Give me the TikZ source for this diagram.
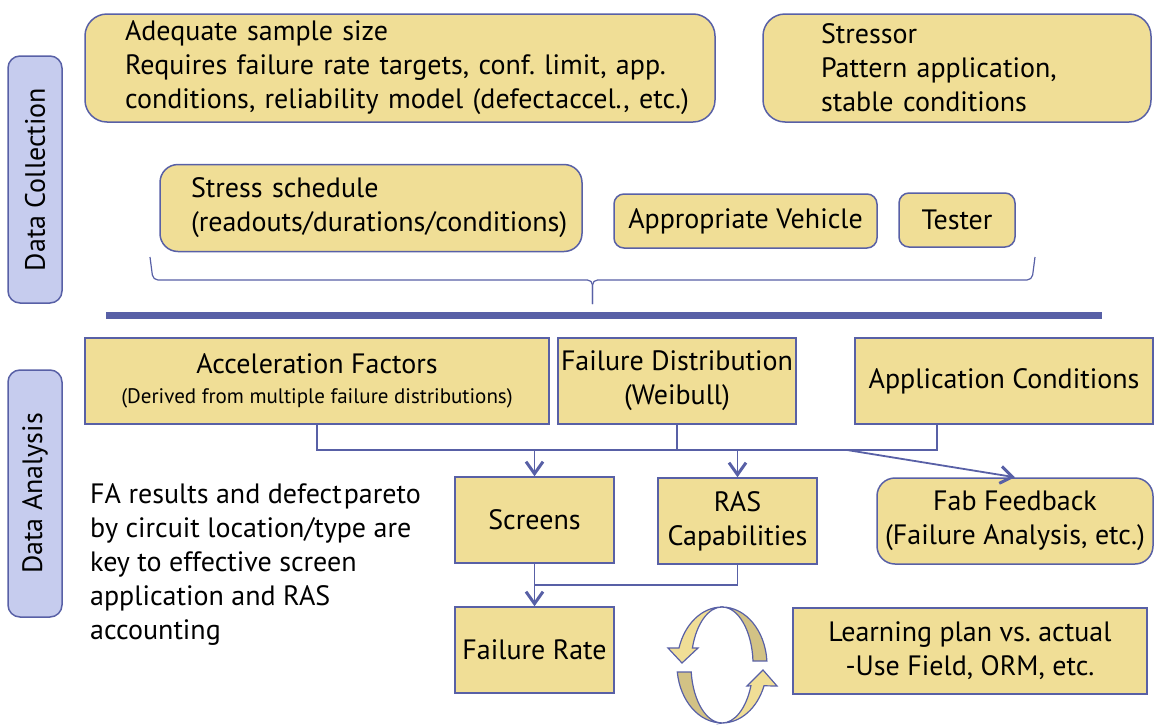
\documentclass[tikz,border=0pt]{standalone}
\usepackage{fontspec}
\setmainfont{PT Sans}
\usetikzlibrary{arrows.meta}
\frenchspacing
\definecolor{sand}{RGB}{240,222,150}
\definecolor{sanddark}{RGB}{210,194,133}
\definecolor{edge}{RGB}{88,96,166}
\definecolor{tabfill}{RGB}{198,204,238}
\tikzset{
  box/.style={draw=edge, fill=sand, line width=1.5pt, inner sep=0pt, font=\fontsize{28}{34}\selectfont},
  tab/.style={draw=edge, fill=tabfill, line width=1.5pt, rounded corners=12pt, inner sep=0pt, font=\fontsize{28}{30}\selectfont},
  link/.style={draw=edge, line width=1.8pt},
  flow/.style={link, -{Straight Barb[length=12pt,width=17pt,line width=3pt]}},
}
\begin{document}
\begin{tikzpicture}[x=1pt,y=-1pt]
   \useasboundingbox (0,0) rectangle (1154,726);
   % 見出し
   \node[tab, minimum width=247pt, minimum height=54pt, rotate=90] (collect) at (35,179.5) {Data Collection};
   \node[tab, minimum width=247pt, minimum height=54pt, rotate=90] (analysis) at (35,493.5) {Data Analysis};

   % データ収集
   \node[box, rounded corners=22pt, minimum width=630pt, minimum height=108pt, text width=550pt, align=left] (sample) at (400,68)
      {Adequate sample size\\Requires failure rate targets, conf. limit, app.\\\mbox{conditions, reliability model (defect\kern1pt accel., etc.)}};
   \node[box, rounded corners=22pt, minimum width=388pt, minimum height=108pt, text width=272pt, align=left] (stressor) at (957,68)
      {Stressor\\Pattern application,\\stable conditions};
   \node[box, rounded corners=18pt, minimum width=422pt, minimum height=87pt, text width=360pt, align=left] (sched) at (371,208)
      {Stress schedule\\\mbox{(readouts/durations/conditions)}};
   \node[box, rounded corners=10pt, minimum width=263pt, minimum height=54pt] (vehicle) at (745.5,221) {Appropriate Vehicle};
   \node[box, rounded corners=10pt, minimum width=116pt, minimum height=54pt] (tester) at (957,220) {Tester};

   % 括弧と区切り線
   \draw[edge, line width=1.2pt, rounded corners=5pt] (150,257) -- (153,280) -- (592.5,280) -- (592.5,304);
   \draw[edge, line width=1.2pt, rounded corners=5pt] (1035,257) -- (1032,280) -- (592.5,280) -- (592.5,304);
   \draw[edge, line width=7pt] (106,315) -- (1102,315);

   % データ解析
   \node[box, minimum width=464pt, minimum height=86pt, align=center] (accel) at (317,381)
      {Acceleration Factors\\[-4pt]{\fontsize{21}{24}\selectfont (Derived from multiple failure distributions)}};
   \node[box, minimum width=238pt, minimum height=86pt, align=center] (faildist) at (677,381) {Failure Distribution\\(Weibull)};
   \node[box, minimum width=298pt, minimum height=86pt] (appcond) at (1004,381) {Application Conditions};
   \node[box, minimum width=159pt, minimum height=86pt] (screens) at (534.5,520) {Screens};
   \node[box, minimum width=159pt, minimum height=86pt, align=center] (ras) at (737.5,521) {RAS\\Capabilities};
   \node[box, rounded corners=18pt, minimum width=276pt, minimum height=86pt, align=center] (fab) at (1015,521)
      {Fab Feedback\\(Failure Analysis, etc.)};
   \node[box, minimum width=159pt, minimum height=86pt] (failrate) at (534.5,650) {Failure Rate};
   \node[box, minimum width=354pt, minimum height=86pt, align=center] (learn) at (970,651)
      {Learning plan vs. actual\\-Use Field, ORM, etc.};
   \node[anchor=north west, align=left, inner sep=0pt, font=\fontsize{28}{34}\selectfont] (fanote) at (90,483)
      {FA results and defect\kern2pt pareto\\by circuit location/type are\\key to effective screen\\application and RAS\\accounting};

   % 接続線
   \coordinate (busL) at (317,450);
   \coordinate (busR) at (937,450);
   \coordinate (busfab) at (847,450);
   \coordinate (merge) at (534.5,585);
   \draw[link] (accel.south) -- (busL) -- (busR) -- (busR |- appcond.south);
   \draw[link] (faildist.south) -- (faildist.south |- busL);
   \draw[flow] (screens.north |- busL) -- (screens.north);
   \draw[flow] (ras.north |- busL) -- (ras.north);
   \draw[flow] (busfab) -- (fab.north);
   \draw[link] (ras.south) -- (ras.south |- merge) -- (merge);
   \draw[flow] (screens.south) -- (failrate.north);

   % 循環矢印
   \filldraw[fill=sanddark, draw=edge, line width=1.2pt] (722,607) arc[start angle=270, end angle=356, x radius=45, y radius=58]
      -- (753,661) arc[start angle=356, end angle=270, x radius=31, y radius=58] -- cycle;
   \filldraw[fill=sand, draw=edge, line width=1.2pt] (722,607) arc[start angle=270, end angle=197, x radius=45, y radius=58]
      -- (668,648) -- (682,663) -- (698,648) -- (692.4,648) arc[start angle=197, end angle=270, x radius=31, y radius=58] -- cycle;
   \filldraw[fill=sanddark, draw=edge, line width=1.2pt] (677.3,672) arc[start angle=173, end angle=90, x radius=45, y radius=58]
      arc[start angle=90, end angle=173, x radius=31, y radius=58] -- cycle;
   \filldraw[fill=sand, draw=edge, line width=1.2pt] (722,723) arc[start angle=90, end angle=21, x radius=45, y radius=58]
      -- (777,686) -- (763,670) -- (747,686) -- (750.9,685.8) arc[start angle=21, end angle=90, x radius=31, y radius=58] -- cycle;
\end{tikzpicture}
\end{document}
